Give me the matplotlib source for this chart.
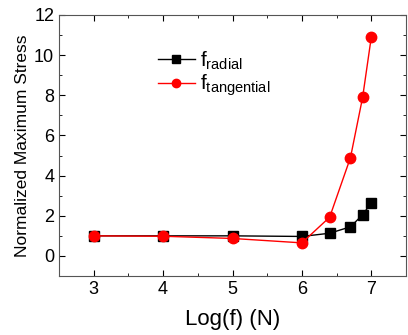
import numpy as np
import matplotlib.pyplot as plt
from matplotlib.ticker import MultipleLocator

plt.rcParams['font.family'] = ['Liberation Sans', 'DejaVu Sans']
plt.rcParams['mathtext.fontset'] = 'custom'
plt.rcParams['mathtext.rm'] = 'Liberation Sans'
plt.rcParams['mathtext.it'] = 'Liberation Sans'

# Data
log_f = [3, 4, 5, 6, 6.4, 6.7, 6.875, 7]
radial = [1.0, 1.0, 1.0, 0.97, 1.13, 1.45, 2.05, 2.65]
tangential = [1.0, 0.98, 0.87, 0.65, 1.93, 4.9, 7.9, 10.9]

fig = plt.figure(figsize=(4.08, 3.35), dpi=100)
ax = fig.add_axes([59/408, 1 - 276/335, 347/408, 261/335])

ax.plot(log_f, radial, color="black", marker="s", markersize=6.5, linewidth=1.0,
        label=r"f$_{\mathrm{radial}}$")
ax.plot(log_f, tangential, color="red", marker="o", markersize=7.5, linewidth=1.0,
        label=r"f$_{\mathrm{tangential}}$")

ax.set_xlim(2.5, 7.5)
ax.set_ylim(-1, 12)
ax.set_xticks([3, 4, 5, 6, 7])
ax.set_yticks([0, 2, 4, 6, 8, 10, 12])
ax.xaxis.set_minor_locator(MultipleLocator(0.5))
ax.yaxis.set_minor_locator(MultipleLocator(1))
ax.tick_params(which="both", direction="in", top=True, right=True, labelsize=13)
ax.tick_params(which="major", length=4)
ax.tick_params(which="minor", length=2.5)
for s in ax.spines.values():
    s.set_color("#555555")

ax.set_xlabel("Log(f) (N)", fontsize=16, labelpad=8)
ax.set_ylabel("Normalized Maximum Stress", fontsize=12.5, labelpad=3)

ax.legend(loc="upper left", bbox_to_anchor=(0.23, 0.94), frameon=False,
          fontsize=15, handlelength=1.8, handletextpad=0.25, labelspacing=0.05,
          markerscale=0.8)

fig.savefig("out.png", dpi=100)
